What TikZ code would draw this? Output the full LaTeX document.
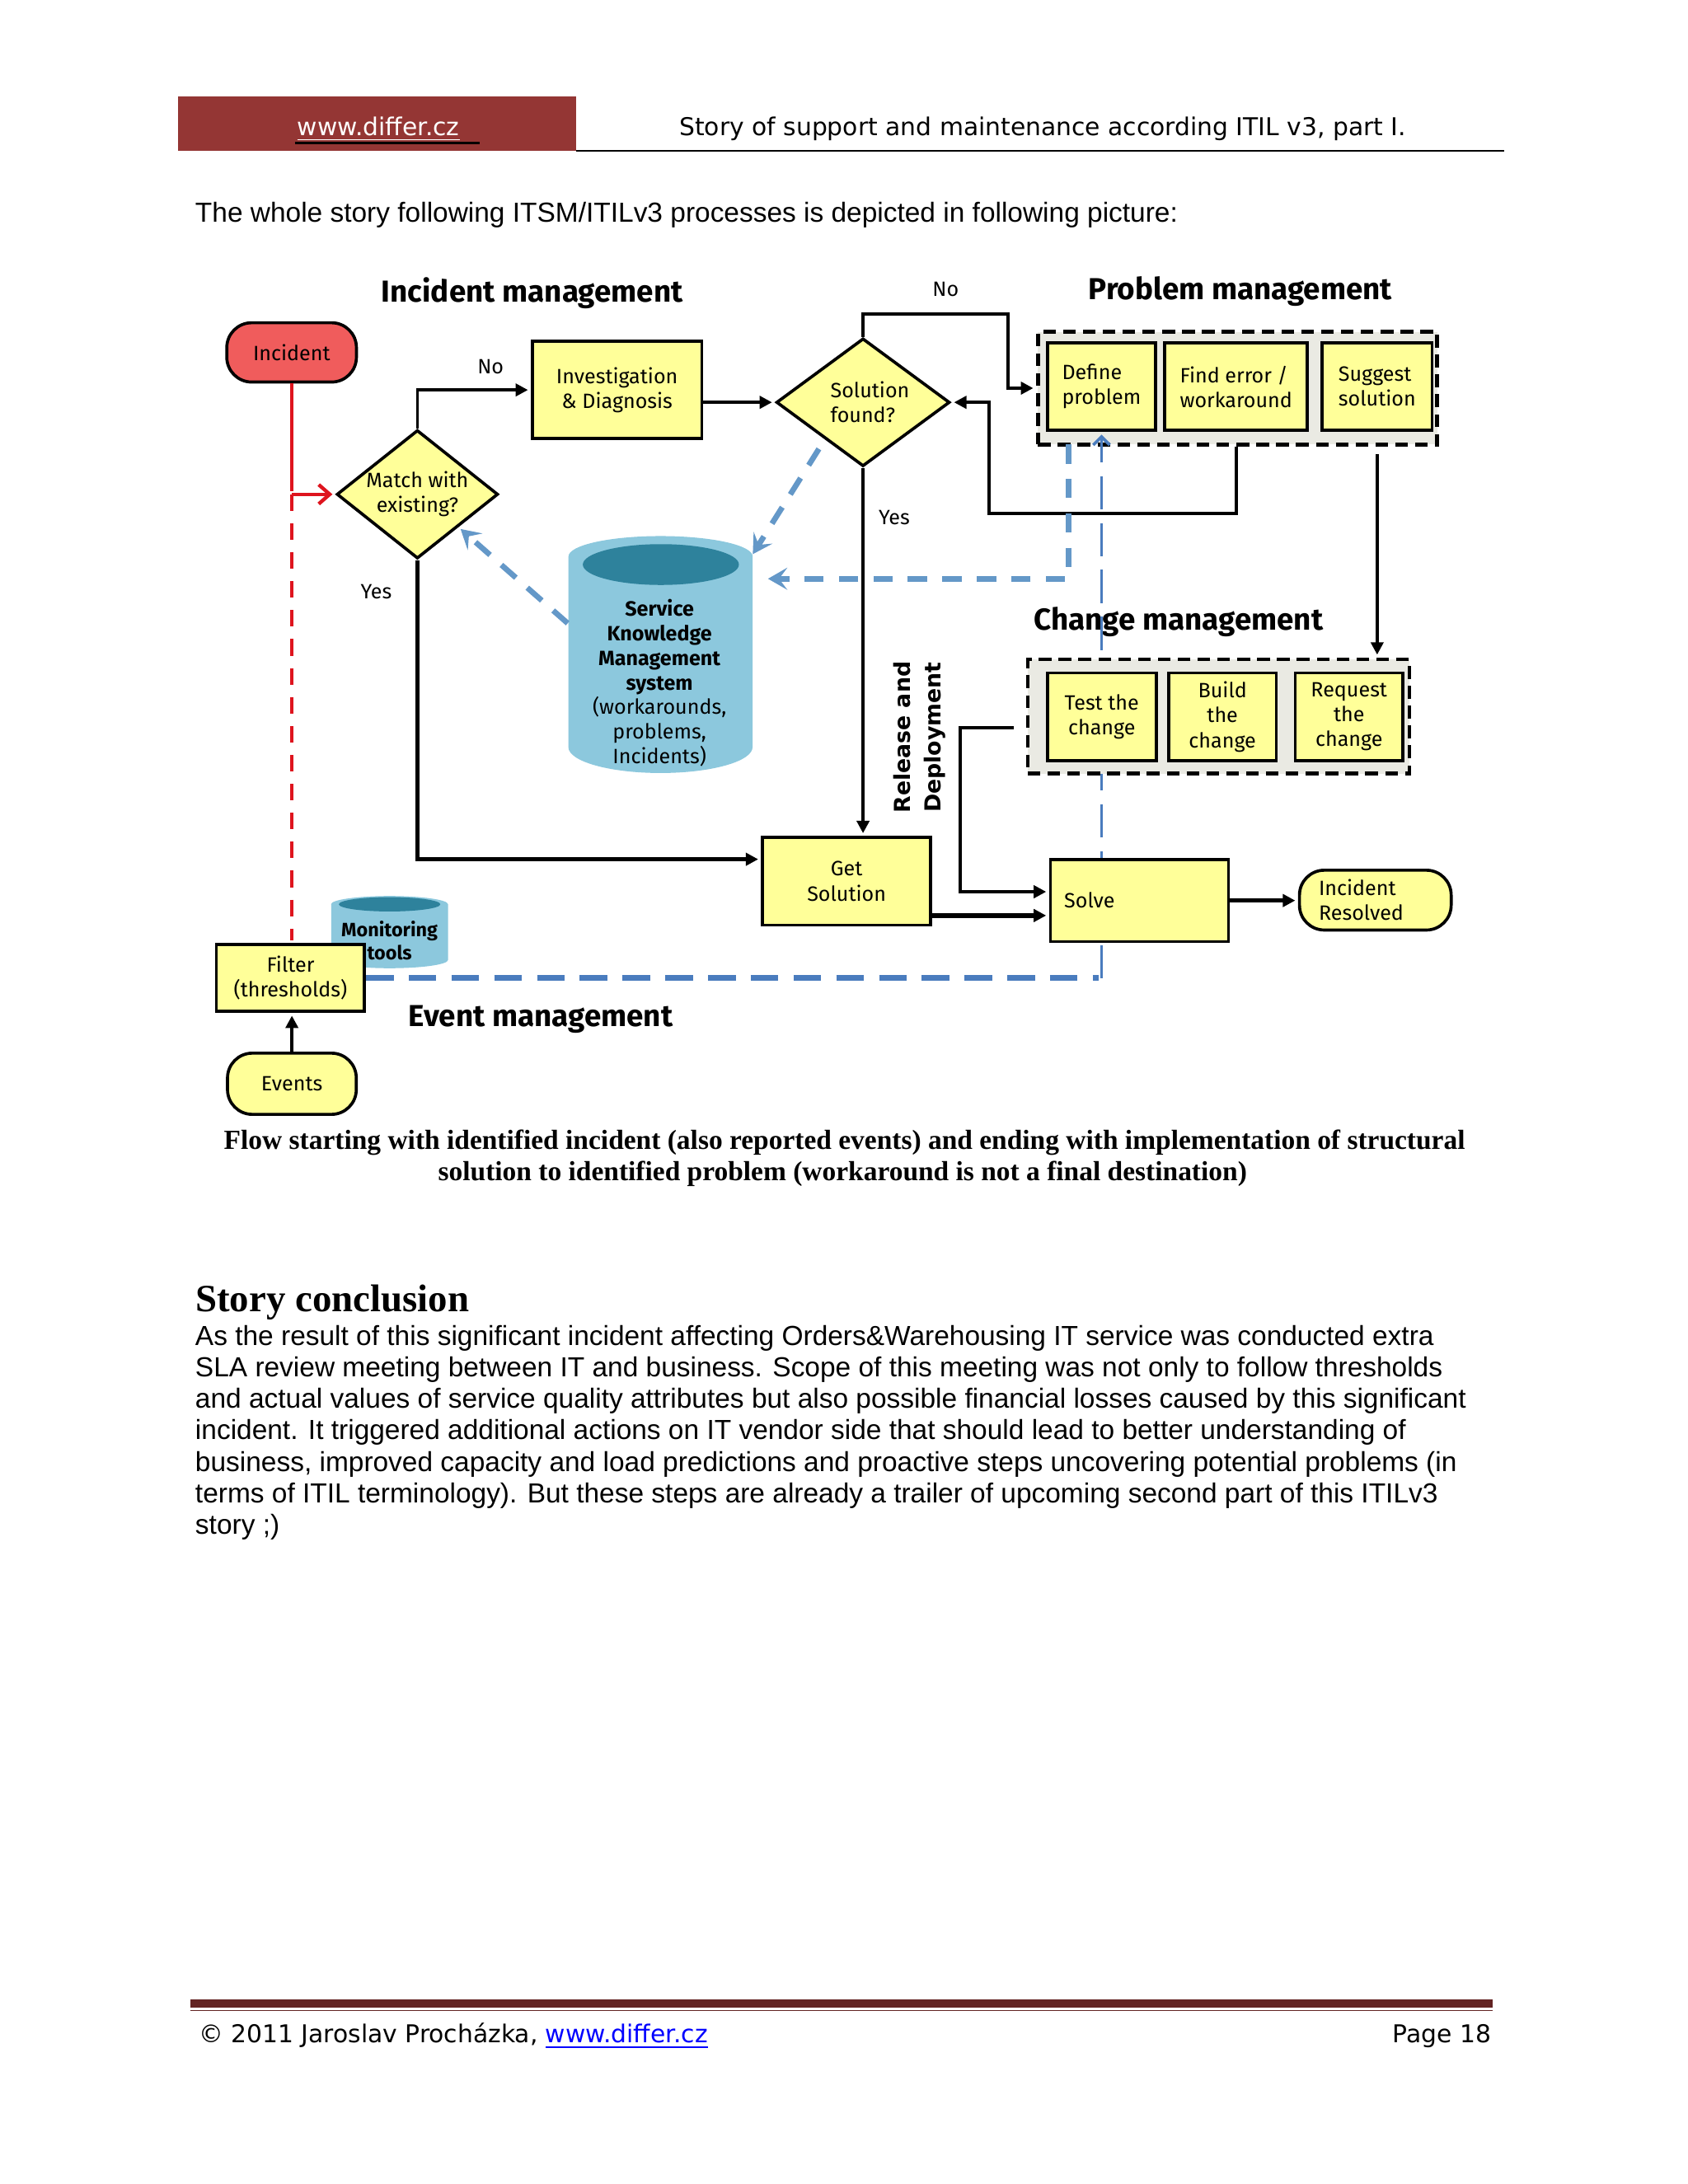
\documentclass[tikz,border=0pt]{standalone}
\usepackage{fontspec}
\setmainfont{Liberation Sans}
\newfontfamily\firafont{Fira Sans}
\newfontfamily\dejafont{DejaVu Sans}
\newfontfamily\timesfont{Liberation Serif}
\usetikzlibrary{shapes.geometric, arrows.meta, positioning, calc}
\definecolor{boxyellow}{RGB}{255,255,153}
\definecolor{boxgrey}{RGB}{234,234,227}
\definecolor{incred}{RGB}{240,92,92}
\definecolor{linered}{RGB}{222,20,30}
\definecolor{kblight}{RGB}{140,200,221}
\definecolor{kbdark}{RGB}{46,130,156}
\definecolor{kbblue}{RGB}{100,152,200}
\definecolor{evblue}{RGB}{74,124,190}
\definecolor{hdrred}{RGB}{148,54,52}
\definecolor{ftrred}{RGB}{99,36,35}
\definecolor{linkblue}{RGB}{0,0,255}

\begin{document}
\begin{tikzpicture}[x=0.5045pt, y=-0.5045pt, shorten >=1pt,
    >={Triangle[length=4.5pt,width=4.5pt]},
    box/.style={draw, line width=1.1pt, fill=boxyellow, align=center, inner sep=2pt,
        font=\firafont\fontsize{7.5}{9}\selectfont},
    term/.style={box, rounded corners=9pt},
    decision/.style={box, diamond, inner sep=0pt},
    dashbox/.style={draw, line width=1.4pt, dash pattern=on 4.6pt off 2.6pt, fill=boxgrey, inner sep=0pt},
    heading/.style={anchor=base, font=\firafont\bfseries\fontsize{11}{13}\selectfont},
    lbl/.style={font=\firafont\fontsize{7.5}{9}\selectfont},
    pagetext/.style={anchor=base west, inner sep=0pt, font=\fontsize{10}{11.45}\selectfont},
    headtext/.style={font=\dejafont\fontsize{8.9}{10}\selectfont},
    flow/.style={line width=1.1pt},
    thickflow/.style={line width=1.6pt},
    redflow/.style={line width=1.3pt, draw=linered},
    reddash/.style={redflow, dash pattern=on 6pt off 4.5pt},
    kbarrow/.style={line width=2pt, draw=kbblue, dash pattern=on 7pt off 5.5pt,
        -{Stealth[length=7pt,width=8pt,inset=3pt]}},
    evdash/.style={line width=2pt, draw=evblue, dash pattern=on 10pt off 5.5pt},
    evthin/.style={line width=1.1pt, draw=evblue, dash pattern=on 12pt off 5pt,
        -{Straight Barb[length=3pt,width=6pt]}}]

\useasboundingbox (0pt,0pt) rectangle (612pt,-792pt);
\fill[white] (0pt,0pt) rectangle (612pt,-792pt);

\fill[hdrred] (128,69.4) rectangle (414,108.5);
\node[headtext, anchor=base, text=white] (site) at (272,97.2) {\underline{www.differ.cz}};
\draw[line width=1pt] (212,102.7) -- (347,102.7);
\node[headtext, anchor=base] (doctitle) at (749.5,97.2) {Story of support and maintenance according ITIL v3, part I.};
\draw[line width=0.7pt] (414,108.3) -- (1083,108.3);

\node[pagetext] (intro) at (140,159.5) {The whole story following ITSM/ITILv3 processes is depicted in following picture:};

\node[heading] (imtitle) at (382.5,217) {Incident management};
\node[heading] (pmtitle) at (891.5,215.5) {Problem management};
\node[heading] (cmtitle) at (847,453) {Change management};
\node[heading] (emtitle) at (388.6,738) {Event management};

\node[term, fill=incred, minimum width=47pt, minimum height=21.5pt] (incident) at (209.6,253.3) {Incident};
\node[box, minimum width=61.5pt, minimum height=35.3pt] (invest) at (443.5,280.3) {Investigation\\\& Diagnosis};
\node[decision, aspect=1.255, minimum width=58.5pt, minimum height=46.6pt] (match) at (300,355.3) {Match with\\existing?};
\node[decision, align=left, aspect=1.356, minimum width=62.9pt, minimum height=46.4pt] (found) at (620.3,289.2)
    {\hspace*{5pt}Solution\\\hspace*{5pt}found?};

\node[dashbox, minimum width=144.8pt, minimum height=40.9pt] (probbox) at (889.5,279) {};
\node[box, align=left, minimum width=39.1pt, minimum height=31.7pt] (define) at (791.7,277.9) {Define\\problem};
\node[box, align=left, minimum width=51.7pt, minimum height=31.7pt, right=2.3pt of define] (finderr) {Find error /\\workaround};
\node[box, align=left, minimum width=39.8pt, minimum height=31.7pt, right=4.3pt of finderr] (suggest) {Suggest\\solution};

\fill[kblight] (238,650) -- (238,690) arc[start angle=180, end angle=360, x radius=21.2pt, y radius=3pt]
    -- (322,650) arc[start angle=0, end angle=180, x radius=21.2pt, y radius=3pt] -- cycle;
\fill[kbdark] (280,650) ellipse [x radius=18.4pt, y radius=2.6pt];
\node[font=\firafont\bfseries\fontsize{7}{8.6}\selectfont, align=center] (montext) at (280,676) {Monitoring\\tools};
\node[box, minimum width=53.7pt, minimum height=24.2pt] (filter) at (208.8,703) {Filter\\(thresholds)};
\node[term, minimum width=46.7pt, minimum height=22.2pt] (events) at (209.8,779) {Events};

\draw[evdash] (filter.east) -- (filter.east -| define.south) coordinate (evturn);
\draw[evthin] (evturn) -- (define.south);

\node[dashbox, minimum width=138.4pt, minimum height=41.4pt] (chgbox) at (875.8,515) {};
\node[box, minimum width=39.5pt, minimum height=31.8pt] (test) at (791.9,515.3) {Test the\\change};
\node[box, minimum width=39pt, minimum height=31.8pt, right=3.4pt of test] (build) {Build\\the\\change};
\node[box, minimum width=39pt, minimum height=31.8pt, right=5.8pt of build] (request) {Request\\the\\change};

\node[box, minimum width=61pt, minimum height=31.8pt] (getsol) at (608.5,633.5) {Get\\Solution};
\node[box, align=left, text width=54.6pt, inner xsep=5pt, minimum height=29.7pt] (solve) at (819,647.3) {Solve};
\node[term, align=left, text width=41pt, inner xsep=7pt, minimum height=21.7pt] (resolved) at (988.5,647) {Incident\\Resolved};

\fill[kblight] (408.5,400) -- (408.5,537) arc[start angle=180, end angle=360, x radius=33.4pt, y radius=9.4pt]
    -- (541,400) arc[start angle=0, end angle=180, x radius=33.4pt, y radius=7.4pt] -- cycle;
\fill[kbdark] (475,405.8) ellipse [x radius=28.3pt, y radius=7.4pt];
\node[font=\firafont\fontsize{7.5}{8.9}\selectfont, align=center] (skms) at (474,491)
    {{\bfseries Service}\\{\bfseries Knowledge}\\{\bfseries Management}\\{\bfseries system}\\(workarounds,\\problems,\\Incidents)};
\coordinate (kbtop) at (540,400);
\coordinate (kbleft) at (408,448);
\coordinate (kbright) at (550,416);
\coordinate (kbfeed) at (768,319.4);

\node[rotate=90, align=center, font=\dejafont\bfseries\fontsize{8}{11.1}\selectfont] (reldep) at (661,530) {Release and\\Deployment};

\node[lbl] (nomatch) at (352.6,263.6) {No};
\node[lbl] (nofound) at (679.7,208) {No};
\node[lbl] (yesfound) at (642.7,372) {Yes};
\node[lbl] (yesmatch) at (270.4,425.4) {Yes};

\draw[redflow] (incident.south) -- (incident.south |- match.west) coordinate (redjoin);
\draw[redflow, -{Straight Barb[length=4pt,width=7pt]}] (redjoin) -- (match.west);
\draw[reddash] (redjoin) -- (redjoin |- filter.north);

\draw[flow, ->] (match.north) |- (invest.west);
\draw[flow, ->] (invest.east |- found.west) -- (found.west);
\coordinate (nocorner) at (724.6,225.6);
\draw[flow, ->] (found.north) |- (nocorner) |- (probbox.west);
\coordinate (backcorner) at (711,369.2);
\draw[flow, ->] (finderr.south |- probbox.south) |- (backcorner) |- (found.east);
\draw[flow, ->] ($(suggest.south |- probbox.south)+(0,5.4)$) -- (suggest.south |- chgbox.north);
\draw[flow, ->] (found.south) -- (found.south |- getsol.north);
\draw[thickflow, ->] (match.south) |- ([yshift=8pt]getsol.west);
\coordinate (getout) at ([yshift=-12.4pt]getsol.east);
\draw[thickflow, ->] (getout) -- (getout -| solve.west);
\coordinate (relstart) at ($(chgbox.west)+(-8.6,8)$);
\coordinate (relturn) at (690,641);
\draw[flow, ->] (relstart) -| (relturn) -- (relturn -| solve.west);
\draw[thickflow, ->] (solve.east) -- (solve.east -| resolved.west);
\draw[flow, ->] (events.north) -- (events.north |- filter.south);

\draw[kbarrow] ([yshift=-5pt]found.south west) -- (kbtop);
\draw[kbarrow] (kbleft) -- (match.south east);
\draw[kbarrow] (kbfeed) |- (kbright);

\node[anchor=base, font=\timesfont\bfseries\fontsize{10}{11.5}\selectfont] (cap1) at (607,826.2)
    {Flow starting with identified incident (also reported events) and ending with implementation of structural};
\node[anchor=base, font=\timesfont\bfseries\fontsize{10}{11.5}\selectfont] (cap2) at (605.6,848.5)
    {solution to identified problem (workaround is not a final destination)};

\node[anchor=base west, inner sep=0pt, font=\timesfont\bfseries\fontsize{14}{16}\selectfont] (conclhead) at (140.2,942.6) {Story conclusion};
\node[pagetext] (para1) at (140,966.8) {As the result of this significant incident affecting Orders\&Warehousing IT service was conducted extra};
\node[pagetext] (para2) at (140,989.5) {SLA review meeting between IT and business. Scope of this meeting was not only to follow thresholds};
\node[pagetext] (para3) at (140,1012.2) {and actual values of service quality attributes but also possible financial losses caused by this significant};
\node[pagetext] (para4) at (140,1034.9) {incident. It triggered additional actions on IT vendor side that should lead to better understanding of};
\node[pagetext] (para5) at (140,1057.6) {business, improved capacity and load predictions and proactive steps uncovering potential problems (in};
\node[pagetext] (para6) at (140,1080.3) {terms of ITIL terminology). But these steps are already a trailer of upcoming second part of this ITILv3};
\node[pagetext] (para7) at (140,1103.0) {story ;)};

\draw[ftrred, line width=2.9pt] (137,1440) -- (1075,1440);
\draw[ftrred, line width=0.5pt] (137,1445.1) -- (1075,1445.1);
\node[headtext, anchor=base west, inner sep=0pt] (copyr) at (142.5,1468.5) {© 2011 Jaroslav Procházka, \textcolor{linkblue}{\underline{www.differ.cz}}};
\node[headtext, anchor=base east, inner sep=0pt] (pageno) at (1072.3,1468.5) {Page 18};
\end{tikzpicture}
\end{document}
